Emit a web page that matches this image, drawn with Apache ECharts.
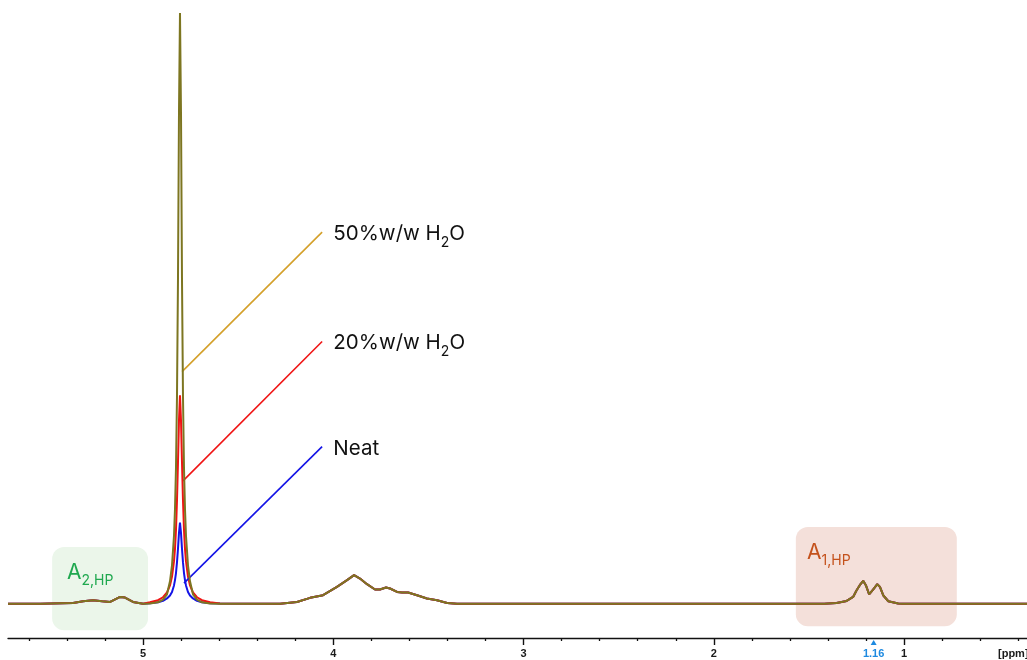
<!DOCTYPE html>
<html>
<head>
<meta charset="utf-8">
<script src="https://cdn.jsdelivr.net/npm/echarts@6/dist/echarts.min.js"></script>
<style>
  html, body { margin: 0; padding: 0; background: #fff; }
  #chart { width: 1027px; height: 660px; }
</style>
</head>
<body>
<div id="chart"></div>
<script>
// axis ticks (ppm)
const majorTicks = [5, 4, 3, 2, 1];
const minorTicks = [5.6, 5.4, 5.2, 4.8, 4.6, 4.4, 4.2, 3.8, 3.6, 3.4, 3.2, 2.8, 2.6, 2.4, 2.2, 1.8, 1.6, 1.4, 1.2, 0.8, 0.6, 0.4];
const markedTick = [1.16];

// shared parts of the spectra [ppm, intensity]
const leftBase = [[5.71, 0], [5.54, 0]];
const a2Region = [[5.368, 0.14], [5.315, 0.42], [5.263, 0.59], [5.215, 0.42], [5.173, 0.31], [5.121, 1.15], [5.095, 1.05], [5.053, 0.31], [5.0, 0]];
const broadRegion = [[4.28, 0], [4.191, 0.3], [4.122, 1.0], [4.054, 1.44], [3.981, 2.85], [3.928, 3.99], [3.891, 4.84], [3.86, 4.27], [3.823, 3.31], [3.781, 2.41], [3.755, 2.41], [3.723, 2.75], [3.702, 2.58], [3.665, 2.0], [3.639, 1.9], [3.607, 1.9], [3.56, 1.44], [3.508, 0.88], [3.455, 0.59], [3.402, 0.14], [3.35, 0]];
const a1Region = [[1.42, 0], [1.355, 0.14], [1.302, 0.48], [1.268, 1.15], [1.251, 2.2], [1.233, 3.14], [1.215, 3.87], [1.201, 3.14], [1.184, 1.6], [1.163, 2.4], [1.141, 3.3], [1.127, 2.85], [1.11, 1.44], [1.083, 0.42], [1.031, 0.03], [1.006, 0]];
const rightBase = [[0.354, 0]];

// water peak near 4.81 ppm
const waterPpm = [4.964, 4.9216, 4.8953, 4.8743, 4.8586, 4.848, 4.8375, 4.8323, 4.827, 4.8218, 4.8165, 4.8113, 4.806, 4.8007, 4.7955, 4.7902, 4.785, 4.7797, 4.7745, 4.764, 4.7534, 4.7377, 4.7167, 4.6904, 4.648, 4.596];
const water50 = [0.05, 0.25, 0.7, 1.6, 3.8, 6.5, 11.5, 16, 23, 35, 55, 83, 100, 83, 55, 35, 23, 16, 11.5, 6.5, 3.8, 1.6, 0.7, 0.25, 0.05, 0];
const water20 = [0.25, 0.6, 1.1, 1.9, 3.1, 4.6, 7.2, 9.3, 12.5, 17.5, 24, 31, 35.3, 31, 24, 17.5, 12.5, 9.3, 7.2, 4.6, 3.1, 1.9, 1.1, 0.6, 0.25, 0.05];
const waterNeat = [0.1, 0.25, 0.5, 0.9, 1.4, 2, 3.1, 4, 5.2, 7, 9.3, 12, 13.75, 12, 9.3, 7, 5.2, 4, 3.1, 2, 1.4, 0.9, 0.5, 0.25, 0.1, 0.02];

function spectrum(water) {
  const peak = waterPpm.map((p, i) => [p, water[i]]);
  return [].concat(leftBase, a2Region, peak, broadRegion, a1Region, rightBase);
}

const chart = echarts.init(document.getElementById('chart'));

const axisBase = {
  type: 'value',
  min: 0.354,
  max: 5.71,
  inverse: true,
  position: 'bottom',
  splitLine: { show: false }
};

chart.setOption({
  animation: false,
  grid: { left: 8, right: 0, top: 13, bottom: 22 },
  xAxis: [
    Object.assign({}, axisBase, {
      axisLine: { show: true, onZero: false, lineStyle: { color: '#111', width: 1.3 } },
      axisTick: { show: true, length: 7, customValues: majorTicks, lineStyle: { color: '#111', width: 1.4 } },
      axisLabel: { customValues: majorTicks, margin: 10, color: '#1a1a1a', fontWeight: 'bold', fontSize: 11, fontFamily: 'Liberation Sans' }
    }),
    Object.assign({}, axisBase, {
      axisLine: { show: false, onZero: false },
      axisTick: { show: true, length: 3, customValues: minorTicks, lineStyle: { color: '#111', width: 1.3 } },
      axisLabel: { show: false }
    }),
    Object.assign({}, axisBase, {
      axisLine: { show: false, onZero: false },
      axisTick: { show: false },
      axisLabel: { customValues: markedTick, margin: 10, color: '#1e8ae0', fontWeight: 'bold', fontSize: 11, fontFamily: 'Liberation Sans', formatter: v => v.toFixed(2) }
    })
  ],
  yAxis: { type: 'value', min: -5.8, max: 100, show: false },
  series: [
    {
      name: 'Neat', type: 'line', data: spectrum(waterNeat), showSymbol: false, z: 3,
      lineStyle: { color: '#1414e6', width: 2 },
      markLine: {
        silent: true, symbol: 'none', label: { show: false },
        lineStyle: { color: '#1414e6', width: 1.6, type: 'solid' },
        data: [[{ coord: [4.785, 3.48] }, { coord: [4.059, 26.6] }]]
      }
    },
    {
      name: '20%w/w H2O', type: 'line', data: spectrum(water20), showSymbol: false, z: 4,
      lineStyle: { color: '#f01414', width: 2 },
      markLine: {
        silent: true, symbol: 'none', label: { show: false },
        lineStyle: { color: '#f01414', width: 1.6, type: 'solid' },
        data: [[{ coord: [4.79, 20.8] }, { coord: [4.059, 44.4] }]]
      }
    },
    {
      name: '50%w/w H2O', type: 'line', data: spectrum(water50), showSymbol: false, z: 5,
      lineStyle: { color: '#7d7621', width: 2 },
      markLine: {
        silent: true, symbol: 'none', label: { show: false },
        lineStyle: { color: '#d4a02a', width: 1.6, type: 'solid' },
        data: [[{ coord: [4.795, 39.3] }, { coord: [4.059, 62.9] }]]
      }
    }
  ]
});

// boxes, labels and the 1.16 marker, placed in data space
const px = p => chart.convertToPixel({ seriesIndex: 0 }, p);
function box(p1, p2, fill) {
  const a = px(p1), b = px(p2);
  return { type: 'rect', z: 0, shape: { x: a[0], y: a[1], width: b[0] - a[0], height: b[1] - a[1], r: 12 }, style: { fill: fill } };
}
function label(p, main, sub, tail, color, size, subSize) {
  const a = px(p);
  return {
    type: 'text', z: 10, x: a[0], y: a[1],
    style: {
      text: '{m|' + main + '}{s|' + sub + '}' + (tail ? '{m|' + tail + '}' : ''),
      verticalAlign: 'middle',
      rich: {
        m: { fontSize: size, fill: color, fontFamily: 'Inter', lineHeight: size + 4, verticalAlign: 'bottom' },
        s: { fontSize: subSize, fill: color, fontFamily: 'Inter', lineHeight: size + 4, verticalAlign: 'bottom', padding: [0, 0, -5, 0] }
      }
    }
  };
}
const tri = px([1.16, -5.8]);

chart.setOption({
  graphic: [
    box([5.478, 9.6], [4.974, -4.5], '#ebf6ea'),
    box([1.569, 13.0], [0.723, -3.8], '#f4e0da'),
    label([5.40, 5.6], 'A', '2,HP', '', '#1fa84f', 21, 14),
    label([1.51, 9.0], 'A', '1,HP', '', '#c4521c', 21, 14),
    label([4.0, 62.9], '50%w/w H', '2', 'O', '#111', 20.5, 14),
    label([4.0, 44.4], '20%w/w H', '2', 'O', '#111', 20.5, 14),
    label([4.0, 26.6], 'Neat', '', '', '#111', 20.5, 14),
    { type: 'polygon', z: 10, shape: { points: [[tri[0] - 3, tri[1] + 7], [tri[0] + 3, tri[1] + 7], [tri[0], tri[1] + 2]] }, style: { fill: '#1e8ae0' } },
    { type: 'text', z: 10, x: 998, y: 654, style: { text: '[ppm]', fill: '#1a1a1a', font: 'bold 11px "Liberation Sans"', verticalAlign: 'middle' } }
  ]
});
</script>
</body>
</html>
